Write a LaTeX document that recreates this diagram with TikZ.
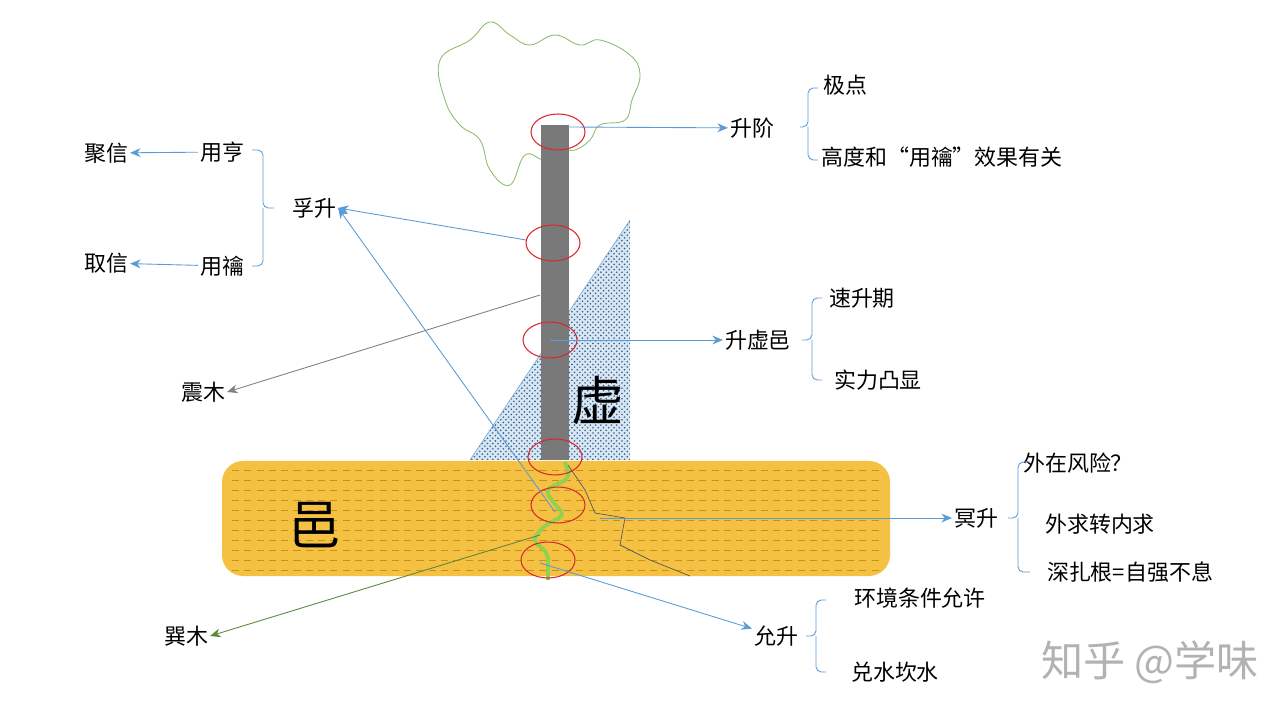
\documentclass[tikz,border=0pt]{standalone}
\usepackage{fontspec}
\setmainfont{Noto Sans CJK SC}
\usetikzlibrary{arrows.meta,patterns,positioning}
\definecolor{lineblue}{HTML}{5B9BD5}
\definecolor{ochre}{HTML}{F5C142}
\definecolor{dashcol}{HTML}{C8901A}
\definecolor{leaf}{HTML}{70AD47}
\definecolor{sprout}{HTML}{92D050}
\definecolor{ring}{HTML}{D9272E}
\tikzset{
  lbl/.style={font=\fontsize{12.5}{14}\selectfont, inner sep=1pt},
  big/.style={font=\fontsize{30}{32}\selectfont},
  link/.style={lineblue, line width=0.5pt, -{Stealth[length=6pt,width=5pt]}},
  brace/.style={lineblue, line width=0.5pt, rounded corners=3pt},
  loupe/.style={ring, line width=0.6pt}
}
\begin{document}
\begin{tikzpicture}[x=0.02cm,y=-0.02cm]
\useasboundingbox (0,0) rectangle (1283,715);

% cloud
\draw[leaf!80, line width=0.5pt] plot[smooth cycle, tension=0.7] coordinates {
  (440,60) (470,40) (490,22) (510,35) (530,45) (555,35) (580,45) (600,40) (630,55)
  (640,75) (632,100) (625,120) (600,125) (590,140) (575,150) (560,150) (545,160)
  (525,155) (510,185) (490,170) (480,140) (460,125) (445,100)};

% triangle and pole
\fill[lineblue!25] (470,460) -- (630,220) -- (630,460) -- cycle;
\fill[pattern=crosshatch dots, pattern color=lineblue!60!black] (470,460) -- (630,220) -- (630,460) -- cycle;
\draw[lineblue!80, line width=0.4pt] (470,460) -- (630,220);
\fill[gray!95!black] (541,125) rectangle (569,460);

% ground
\fill[ochre, rounded corners=12pt] (222,461) rectangle (890,576);
\foreach \yy in {470,480,...,570}
  \draw[dashcol, line width=0.3pt, dash pattern=on 4pt off 3pt] (232,\yy) -- (880,\yy);
\node[big] (yi) at (315,525) {邑};
\node[big] (xu) at (598,400) {虚};

% root and crack
\draw[sprout, line width=2.2pt, rounded corners=4pt] (565,462) -- (570,478) -- (545,490) -- (555,505) -- (565,515) -- (545,525) -- (532,540) -- (548,553) -- (548,580);
\draw[gray!70!black, line width=0.4pt] (568,465) -- (585,490) -- (595,513) -- (625,518) -- (620,545) -- (650,560) -- (690,576);

% rings
\foreach \cx/\cy in {558/132, 553/243, 550/340, 555/457, 558/505, 548/560}
  \draw[loupe] (\cx,\cy) ellipse (27 and 18);

% coordinates on the tree
\coordinate (top) at (568,127);
\coordinate (mid) at (550,340);
\coordinate (ring2) at (526,240);
\coordinate (trunk) at (540,295);
\coordinate (deep) at (555,512);
\coordinate (crack) at (600,518);
\coordinate (root) at (540,535);
\coordinate (tip) at (540,563);

% labels
\node[lbl] (shengjie) at (752,128) {升阶};
\node[lbl] (jidian) at (845,85) {极点};
\node[lbl] (gaodu) at (942,157) {高度和“用禴”效果有关};
\node[lbl] (shengxuyi) at (758,340) {升虚邑};
\node[lbl] (sushengqi) at (862,298) {速升期};
\node[lbl] (shili) at (878,380) {实力凸显};
\node[lbl] (mingsheng) at (976,518) {冥升};
\node[lbl] (fengxian) at (1078,463) {外在风险？};
\node[lbl] (neiqiu) at (1100,524) {外求转内求};
\node[lbl] (zhagen) at (1130,572) {深扎根=自强不息};
\node[lbl] (yunsheng) at (776,636) {允升};
\node[lbl] (huanjing) at (920,598) {环境条件允许};
\node[lbl] (duishui) at (895,672) {兑水坎水};
\node[lbl] (xunmu) at (186,636) {巽木};
\node[lbl] (zhenmu) at (203,392) {震木};
\node[lbl] (fusheng) at (314,208) {孚升};
\node[lbl] (yongheng) at (222,152) {用亨};
\node[lbl] (yongyue) at (222,266) {用禴};
\node[lbl] (juxin) at (106,153) {聚信};
\node[lbl] (quxin) at (106,263) {取信};

% arrows
\draw[link] (top) -- (shengjie);
\draw[link] (mid) -- (shengxuyi);
\draw[link] (crack) -- (mingsheng);
\draw[link] (tip) -- (yunsheng);
\draw[link] (ring2) -- (fusheng.east);
\draw[link] (deep) -- (fusheng.east);
\draw[link, gray] (trunk) -- (zhenmu.east);
\draw[link, leaf!80!black] (root) -- (xunmu.east);
\draw[link] (yongheng) -- (juxin);
\draw[link] (yongyue) -- (quxin);

% braces
\draw[brace] (818,88) -- (808,88) -- (808,127) -- (800,127) (808,127) -- (808,160) -- (818,160);
\draw[brace] (822,298) -- (812,298) -- (812,340) -- (802,340) (812,340) -- (812,380) -- (822,380);
\draw[brace] (1030,462) -- (1018,462) -- (1018,518) -- (1008,518) (1018,518) -- (1018,572) -- (1030,572);
\draw[brace] (826,600) -- (816,600) -- (816,636) -- (806,636) (816,636) -- (816,672) -- (826,672);
\draw[brace] (252,150) -- (263,150) -- (263,208) -- (274,208) (263,208) -- (263,266) -- (252,266);

% watermark
\node[font=\fontsize{24}{26}\selectfont, text=gray!60] (mark) at (1150,662) {知乎 @学味};
\end{tikzpicture}
\end{document}
